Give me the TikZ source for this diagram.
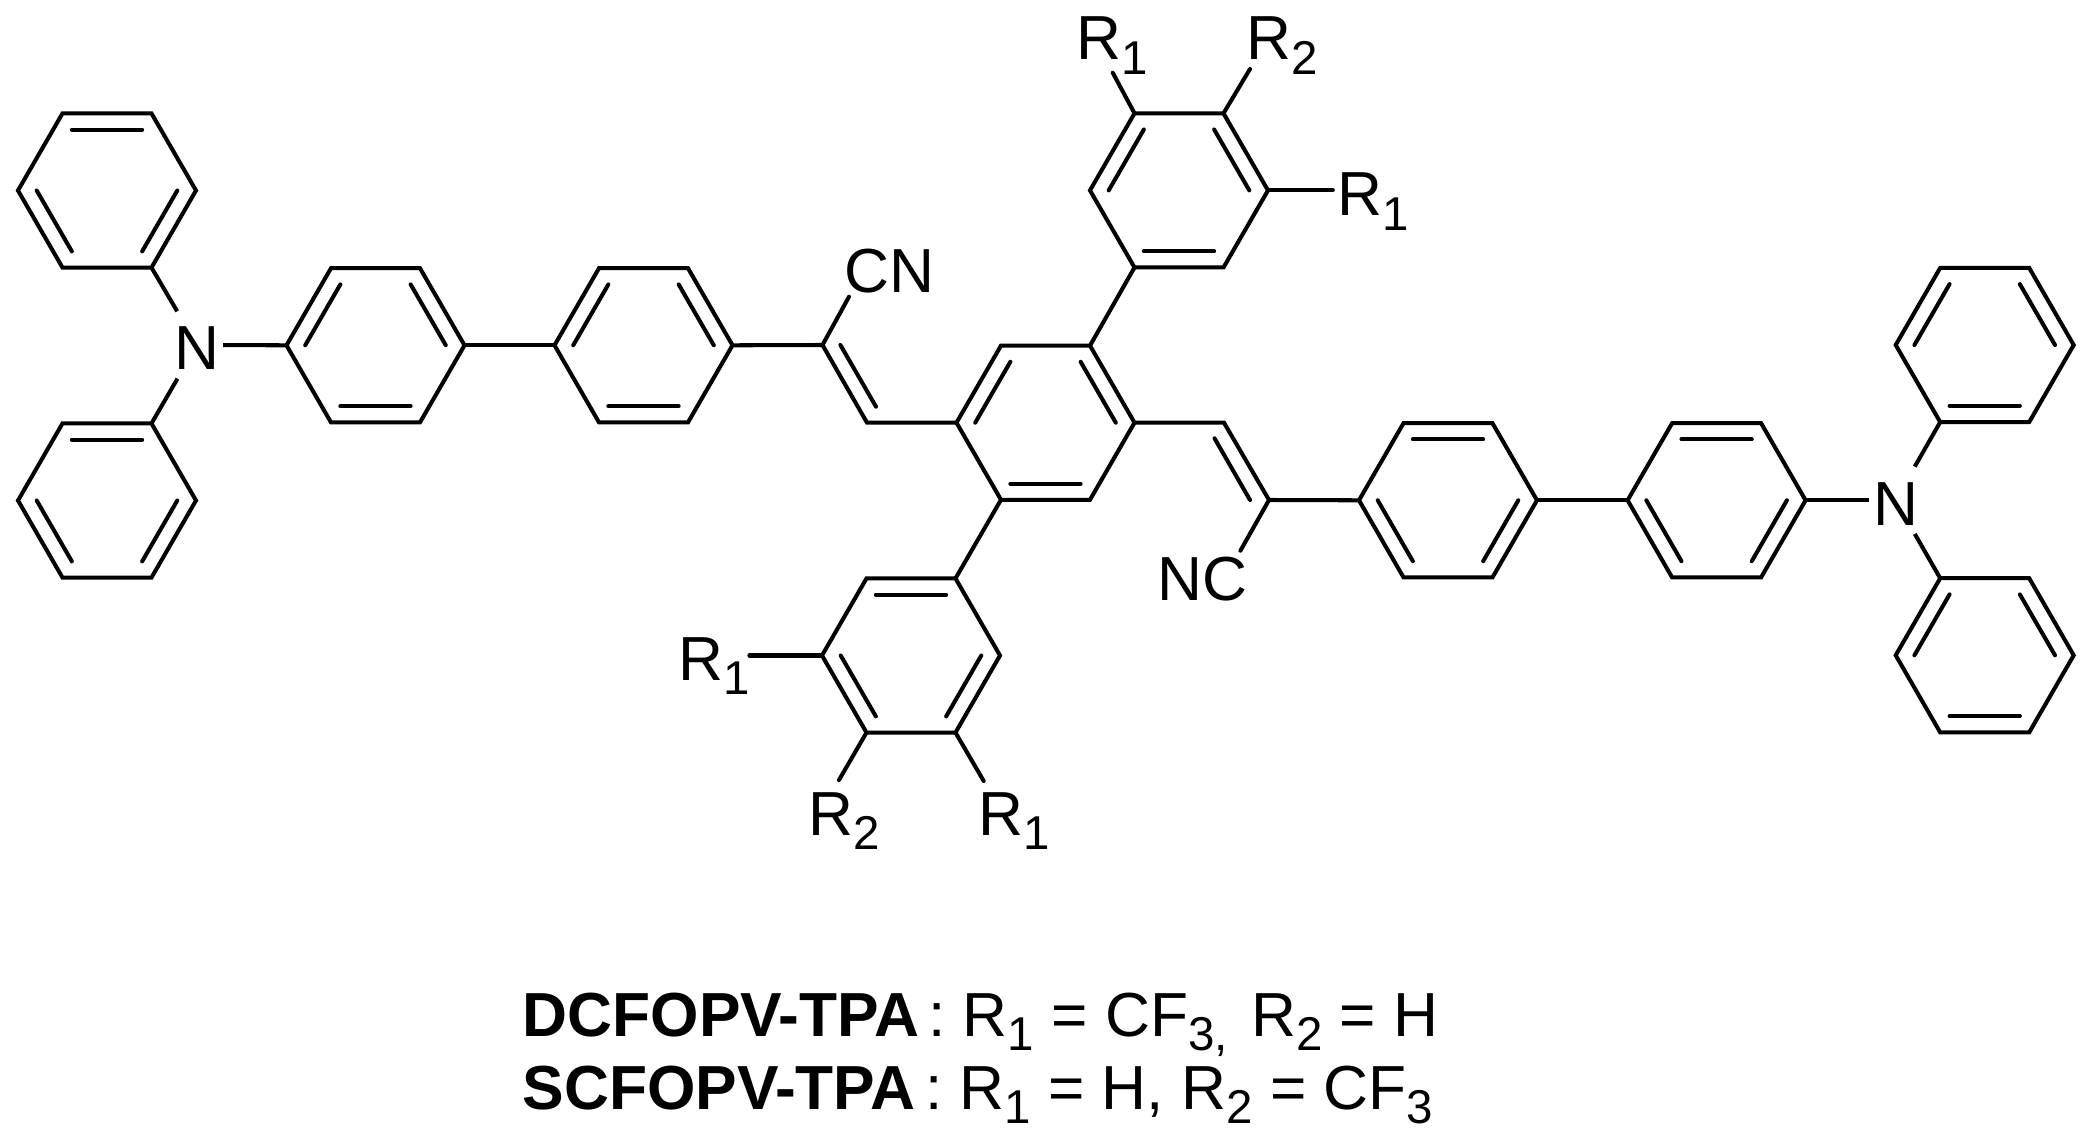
\documentclass[tikz,border=0pt]{standalone}
\usepackage{fontspec}
\setmainfont{Liberation Sans}
\usepackage{tikz}
\usetikzlibrary{}

\tikzset{
    bond/.style={line width=1.15pt},
    inbond/.style={line width=1.15pt, line cap=round},
    atom/.style={font=\fontsize{17.7}{20}\selectfont, inner xsep=.03cm, inner ysep=.08cm, text height=14.2pt, text depth=0pt},
    group/.style={font=\fontsize{17.7}{20}\selectfont, inner sep=0pt, anchor=base west},
}

\newcommand{\idx}[1]{\raisebox{-4pt}{\fontsize{13.5}{13.5}\selectfont #1}}

% name, centre x, centre y, 0 or 60 for the set of double bonds
\newcommand{\ring}[4]{
    \foreach \i [evaluate=\i as \a using (\i-1)*60] in {1,...,6}
        \coordinate (#1-\i) at ([shift={(#2,#3)}]\a:89);
    \draw[bond] (#1-1) -- (#1-2) -- (#1-3) -- (#1-4) -- (#1-5) -- (#1-6) -- cycle;
    \foreach \b [evaluate=\b as \a using \b+#4, evaluate=\b as \c using \b+#4+60] in {0,120,240}
        \draw[inbond] ([shift={(#2,#3)}]\a:70.3) -- ([shift={(#2,#3)}]\c:70.3);
}

\begin{document}
\begin{tikzpicture}[x=.01cm, y=-.01cm]
    \useasboundingbox (0, 0) rectangle (2090, 1140);

    \ring{phA}{107}{190.5}{0}
    \ring{phB}{107}{500.5}{0}
    \ring{biA}{375.5}{345.3}{60}
    \ring{biB}{643.5}{345.3}{60}
    \ring{core}{1045.5}{422.7}{60}
    \ring{arU}{1179}{190.4}{60}
    \ring{arD}{911}{655.5}{0}
    \ring{biC}{1448}{500.3}{0}
    \ring{biD}{1716.6}{500.3}{0}
    \ring{phC}{1984.7}{345}{60}
    \ring{phD}{1984.7}{655.3}{60}

    \node[atom] (nl) at (197, 345) {N};
    \node[atom] (nr) at (1895.5, 500.3) {N};

    \coordinate (vcA) at (822.5, 345);
    \coordinate (vhA) at (867, 422.7);
    \coordinate (vcAi) at (840.4, 345);
    \coordinate (vhAi) at (876, 406.7);
    \coordinate (vhB) at (1224, 422.7);
    \coordinate (vcB) at (1269, 500);
    \coordinate (vhBi) at (1214.5, 438.3);
    \coordinate (vcBi) at (1250, 500);

    % groups and the free ends of their bonds
    \node[group] (cnA) at (844, 293) {CN};
    \node[group] (cnB) at (1157, 601) {NC};
    \node[group] (rUa) at (1075.5, 60) {R\idx{1}};
    \node[group] (rUb) at (1246, 60) {R\idx{2}};
    \node[group] (rUc) at (1337, 216) {R\idx{1}};
    \node[group] (rDa) at (677.4, 680) {R\idx{1}};
    \node[group] (rDb) at (808, 835) {R\idx{2}};
    \node[group] (rDc) at (978, 835) {R\idx{1}};
    \coordinate (cnAe) at (849, 296.7);
    \coordinate (cnBe) at (1240.4, 550.7);
    \coordinate (rUae) at (1112.7, 72.7);
    \coordinate (rUbe) at (1250, 69);
    \coordinate (rUce) at (1332.8, 190.4);
    \coordinate (rDae) at (749.4, 655.5);
    \coordinate (rDbe) at (839, 780);
    \coordinate (rDce) at (983.7, 781);

    \draw[bond] (phA-2) -- (nl);
    \draw[bond] (phB-6) -- (nl);
    \draw[bond] (nl) -- (biA-4);
    \draw[bond] (biA-1) -- (biB-4);
    \draw[bond] (biB-1) -- (vcA) -- (vhA) -- (core-4);
    \draw[inbond] (vcAi) -- (vhAi);
    \draw[bond, line cap=round] (vcA) -- (cnAe);
    \draw[bond] (core-6) -- (arU-3);
    \draw[bond] (core-3) -- (arD-6);
    \draw[bond] (core-1) -- (vhB) -- (vcB) -- (biC-4);
    \draw[inbond] (vhBi) -- (vcBi);
    \draw[bond, line cap=round] (vcB) -- (cnBe);
    \draw[bond] (biC-1) -- (biD-4);
    \draw[bond] (biD-1) -- (nr);
    \draw[bond] (nr) -- (phC-3);
    \draw[bond] (nr) -- (phD-5);
    \draw[bond, line cap=round] (arU-5) -- (rUae);
    \draw[bond, line cap=round] (arU-6) -- (rUbe);
    \draw[bond, line cap=round] (arU-1) -- (rUce);
    \draw[bond, line cap=round] (arD-4) -- (rDae);
    \draw[bond, line cap=round] (arD-3) -- (rDbe);
    \draw[bond, line cap=round] (arD-2) -- (rDce);

    \node[group] (nameA) at (522, 1036) {\textbf{DCFOPV-TPA}\hspace{-2.3pt} : R\idx{1} = CF\idx{3}\idx{,}\hspace{1.7pt} R\idx{2} = H};
    \node[group] (nameB) at (522, 1109) {\textbf{SCFOPV-TPA}\hspace{-2.3pt} : R\idx{1} = H, R\idx{2} = CF\idx{3}};
\end{tikzpicture}
\end{document}
